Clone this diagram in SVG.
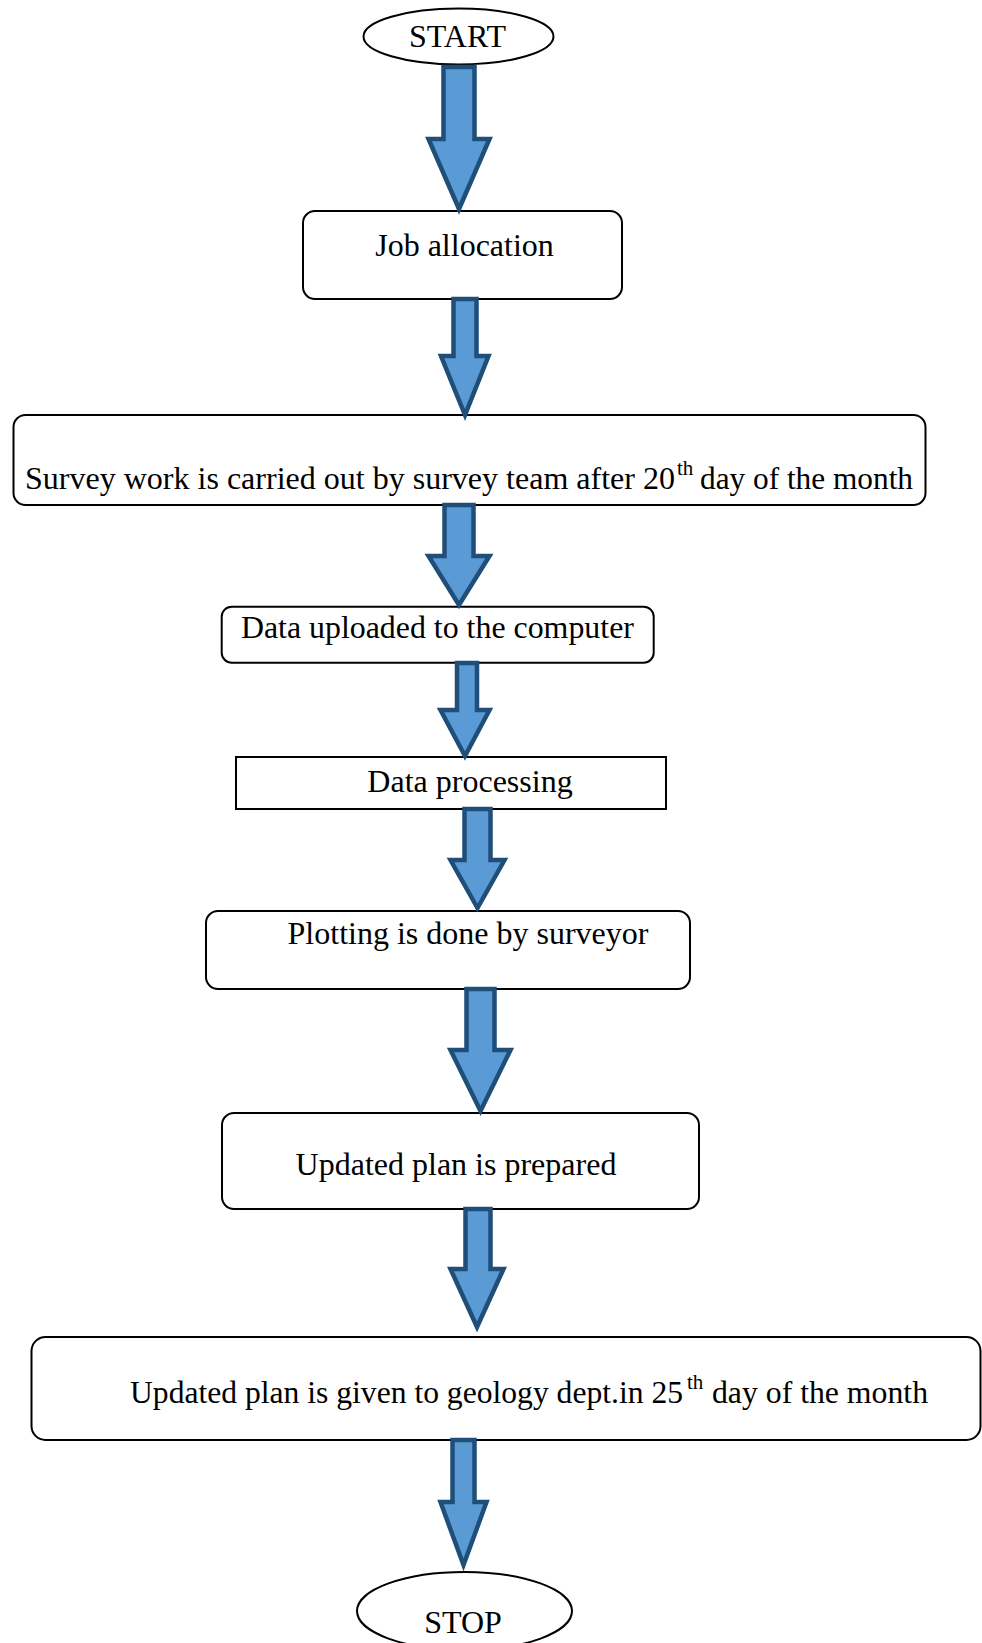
<svg xmlns="http://www.w3.org/2000/svg" width="982" height="1643" viewBox="0 0 982 1643">
<style>
.box{fill:#fff;stroke:#000;stroke-width:2}
.t{font-family:"Liberation Serif","Times New Roman",serif;font-size:32px;fill:#000}
.c{text-anchor:middle}
.sup{font-size:21px}
.arr{fill:#5B9BD5;stroke:#1F4E79;stroke-width:4.5;stroke-linejoin:miter;stroke-miterlimit:10}
</style>
<rect width="982" height="1643" fill="#fff"/>
<g id="start"><ellipse class="box" cx="458.5" cy="36.5" rx="95" ry="28"/><text class="t c" x="457.5" y="47">START</text></g>
<g id="job"><rect class="box" x="303" y="211" width="319" height="88" rx="12"/><text class="t c" x="464.5" y="256">Job allocation</text></g>
<g id="survey"><rect class="box" x="13.5" y="415" width="912" height="90" rx="12"/>
<text class="t" x="25" y="489" textLength="650" lengthAdjust="spacingAndGlyphs">Survey work is carried out by survey team after 20</text>
<text class="t sup" x="677" y="475">th</text>
<text class="t" x="700" y="489" textLength="213" lengthAdjust="spacingAndGlyphs">day of the month</text></g>
<g id="upload"><rect class="box" x="221.7" y="606.7" width="432" height="56" rx="10"/><text class="t c" x="437.4" y="638" textLength="393" lengthAdjust="spacingAndGlyphs">Data uploaded to the computer</text></g>
<g id="processing"><rect class="box" x="236" y="757" width="430" height="52"/><text class="t c" x="470" y="792">Data processing</text></g>
<g id="plotting"><rect class="box" x="206" y="911" width="484" height="78" rx="12"/><text class="t c" x="468" y="944">Plotting is done by surveyor</text></g>
<g id="prepared"><rect class="box" x="222" y="1113" width="477" height="96" rx="12"/><text class="t c" x="456" y="1175">Updated plan is prepared</text></g>
<g id="given"><rect class="box" x="31.5" y="1337" width="949" height="103" rx="14"/>
<text class="t" x="130" y="1403" textLength="553" lengthAdjust="spacingAndGlyphs">Updated plan is given to geology dept.in 25</text>
<text class="t sup" x="687" y="1389">th</text>
<text class="t" x="712" y="1403" textLength="216" lengthAdjust="spacingAndGlyphs">day of the month</text></g>
<g id="stop"><ellipse class="box" cx="464.5" cy="1611" rx="107.5" ry="39"/><text class="t c" x="463" y="1633">STOP</text></g>
<g id="connectors">
<polygon class="arr" points="443.5,67 474.5,67 474.5,139 489.5,139 459,209 428.5,139 443.5,139"/>
<polygon class="arr" points="453.5,299 476.5,299 476.5,356 488.5,356 465,415 441,356 453.5,356"/>
<polygon class="arr" points="444.5,505 473.5,505 473.5,556 489.5,556 459,605 428.5,556 444.5,556"/>
<polygon class="arr" points="457,663 477,663 477,710 489.5,710 465,756 440.5,710 457,710"/>
<polygon class="arr" points="464.5,809 490.5,809 490.5,860 504.5,860 477.5,908 450.5,860 464.5,860"/>
<polygon class="arr" points="466.5,989 494.5,989 494.5,1050 510.5,1050 480.5,1111 450.5,1050 466.5,1050"/>
<polygon class="arr" points="465.5,1209 490.5,1209 490.5,1269 503.5,1269 477,1327 450.5,1269 465.5,1269"/>
<polygon class="arr" points="452.5,1440 474.5,1440 474.5,1502 486.5,1502 463.5,1565 440.5,1502 452.5,1502"/>
</g>
</svg>
